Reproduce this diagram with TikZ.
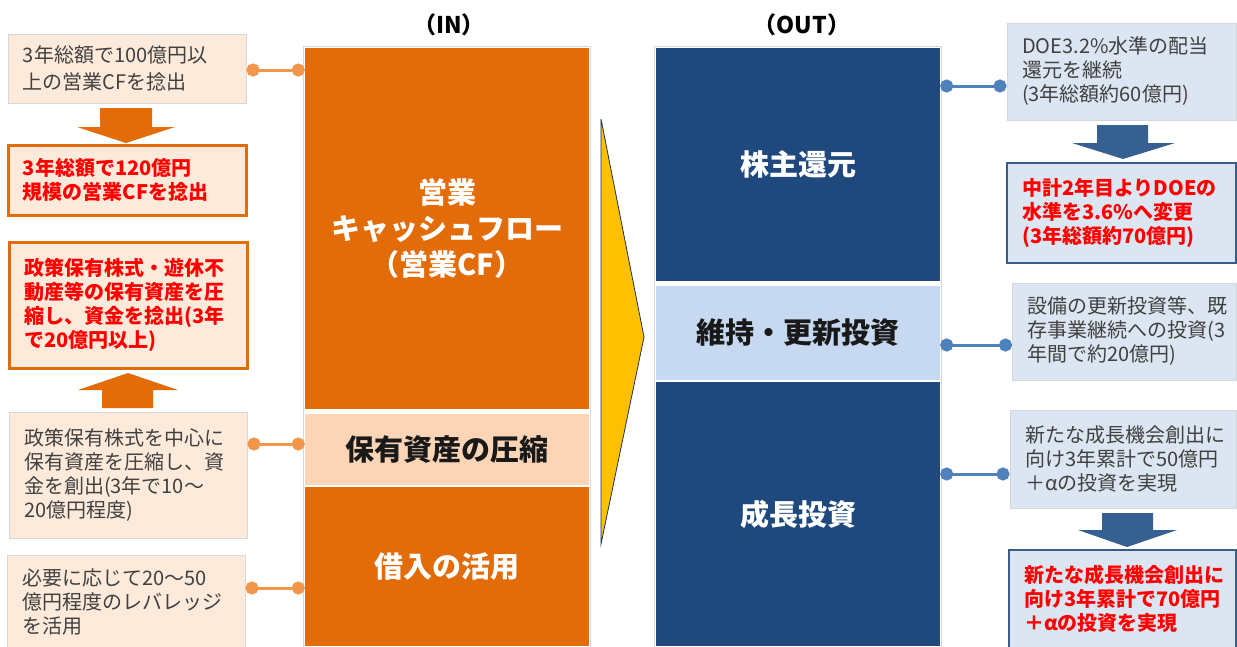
\documentclass[tikz,border=0pt]{standalone}
\usepackage{fontspec}
\setmainfont{Noto Sans CJK JP}
\usetikzlibrary{arrows.meta}
\definecolor{orng}{RGB}{227,108,10}
\definecolor{bandpeach}{RGB}{251,213,181}
\definecolor{peachlt}{RGB}{253,234,218}
\definecolor{lconnc}{RGB}{242,150,75}
\definecolor{navy}{RGB}{31,73,125}
\definecolor{bandblue}{RGB}{198,217,241}
\definecolor{bluelt}{RGB}{220,230,242}
\definecolor{rconnc}{RGB}{79,129,189}
\definecolor{arrblue}{RGB}{54,96,146}
\definecolor{boxblue}{RGB}{56,93,138}
\definecolor{yel}{RGB}{255,192,0}
\definecolor{txtgray}{RGB}{64,64,64}
\definecolor{redtxt}{RGB}{255,0,0}
\definecolor{frame}{RGB}{215,215,215}
\begin{document}
\begin{tikzpicture}[x=1pt,y=-1pt,
  boxbase/.style={line width=1pt, inner xsep=15pt, inner ysep=0pt, align=left,
    font=\fontsize{20}{24}\selectfont},
  lbox/.style={boxbase, draw=frame, fill=peachlt, text width=208pt, text=txtgray},
  lboxhi/.style={boxbase, draw=orng, line width=3pt, fill=peachlt, text width=208pt, text=redtxt,
    font=\fontsize{20}{24}\selectfont\bfseries},
  rbox/.style={boxbase, draw=frame, fill=bluelt, text width=#1, text=txtgray},
  rboxhi/.style={boxbase, draw=boxblue, line width=2.5pt, fill=bluelt, text width=#1, text=redtxt,
    font=\fontsize{20}{24}\selectfont\bfseries},
  section/.style={inner sep=0pt, minimum width=284pt, align=center,
    font=\fontsize{29}{36}\selectfont\bfseries},
  coltitle/.style={font=\fontsize{23}{28}\selectfont\bfseries, text=black},
  lconn/.style={draw=lconnc, line width=3pt, {Circle[length=13pt,width=13pt]}-{Circle[length=13pt,width=13pt]}},
  rconn/.style={draw=rconnc, line width=3pt, {Circle[length=13pt,width=13pt]}-{Circle[length=13pt,width=13pt]}}
]
\useasboundingbox (0,0) rectangle (1237,646);
\clip (0,0) rectangle (1237,646);
\fill[white] (0,0) rectangle (1237,646);

% column titles
\node[coltitle] (tin) at (449,25) {（IN）};
\node[coltitle] (tout) at (802,25) {（OUT）};

% IN column
\draw[frame, line width=1pt] (303.5,46.5) rectangle (590.5,660);
\node[section, fill=orng, text=white, minimum height=361pt] (cf) at (447,228.5)
  {営業\\キャッシュフロー\\（営業CF）};
\node[section, fill=bandpeach, text=black!90, minimum height=71pt] (band) at (447,449.5)
  {保有資産の圧縮};
\node[section, fill=orng, text=white, minimum height=159pt] (borrow) at (447,566.5)
  {借入の活用};

% OUT column
\draw[frame, line width=1pt] (654.5,46.5) rectangle (941.5,660);
\node[section, fill=navy, text=white, minimum height=233pt] (div) at (798,164.5)
  {株主還元};
\node[section, fill=bandblue, text=black!90, minimum height=94pt] (maint) at (798,333)
  {維持・更新投資};
\node[section, fill=navy, text=white, minimum height=264pt] (growth) at (798,514)
  {成長投資};

% central chevron
\draw[fill=yel, draw=navy!70!black, line width=0.8pt] (601,119) -- (644,337) -- (601,544) -- cycle;

% left boxes
\node[lbox, minimum height=69pt, font=\fontsize{20}{27}\selectfont] (b1) at (127,68.5)
  {3年総額で100億円以\\上の営業CFを捻出};
\node[lboxhi, minimum height=70pt] (b2) at (127,180)
  {3年総額で120億円\\規模の営業CFを捻出};
\node[lboxhi, minimum height=126pt] (b3) at (128,305)
  {政策保有株式・遊休不\\動産等の保有資産を圧\\縮し、資金を捻出(3年\\で20億円以上)};
\node[lbox, minimum height=126pt] (b4) at (128,475)
  {政策保有株式を中心に\\保有資産を圧縮し、資\\金を創出(3年で10～\\20億円程度)};
\node[lbox, minimum height=93pt] (b5) at (126,601.5)
  {必要に応じて20～50\\億円程度のレバレッジ\\を活用};

% right boxes
\node[rbox=199pt, minimum height=97pt] (r1) at (1121.5,71.5)
  {DOE3.2\%水準の配当\\還元を継続\\(3年総額約60億円)};
\node[rboxhi=199pt, minimum height=100pt] (r2) at (1121.5,213)
  {中計2年目よりDOEの\\水準を3.6\%へ変更\\(3年総額約70億円)};
\node[rbox=194pt, minimum height=97pt] (r3) at (1124.5,331.5)
  {設備の更新投資等、既\\存事業継続への投資(3\\年間で約20億円)};
\node[rbox=196pt, minimum height=98pt] (r4) at (1123,459)
  {新たな成長機会創出に\\向け3年累計で50億円\\＋αの投資を実現};
\node[rboxhi=197pt, minimum height=98pt] (r5) at (1122.5,599)
  {新たな成長機会創出に\\向け3年累計で70億円\\＋αの投資を実現};

% block arrows
\fill[orng] (100,108) -- (152,108) -- (152,127) -- (175,127) -- (126,143) -- (77,127) -- (100,127) -- cycle;
\fill[orng] (102,408) -- (153,408) -- (153,390) -- (178,390) -- (128,373) -- (78,390) -- (102,390) -- cycle;
\fill[arrblue] (1097,125) -- (1148,125) -- (1148,143) -- (1175,143) -- (1123,159) -- (1072,143) -- (1097,143) -- cycle;
\fill[arrblue] (1102,513) -- (1153,513) -- (1153,530) -- (1177,530) -- (1127,547) -- (1078,530) -- (1102,530) -- cycle;

% connectors
\path[lconn] (b1.east |- 0,70) -- (cf.west |- 0,70);
\path[lconn] (b4.east |- 0,444) -- (band.west |- 0,444);
\path[lconn] (b5.east |- 0,588) -- (borrow.west |- 0,588);
\path[rconn] (div.east |- 0,86) -- (r1.west |- 0,86);
\path[rconn] (maint.east |- 0,345) -- (r3.west |- 0,345);
\path[rconn] (growth.east |- 0,474) -- (r4.west |- 0,474);
\end{tikzpicture}
\end{document}
